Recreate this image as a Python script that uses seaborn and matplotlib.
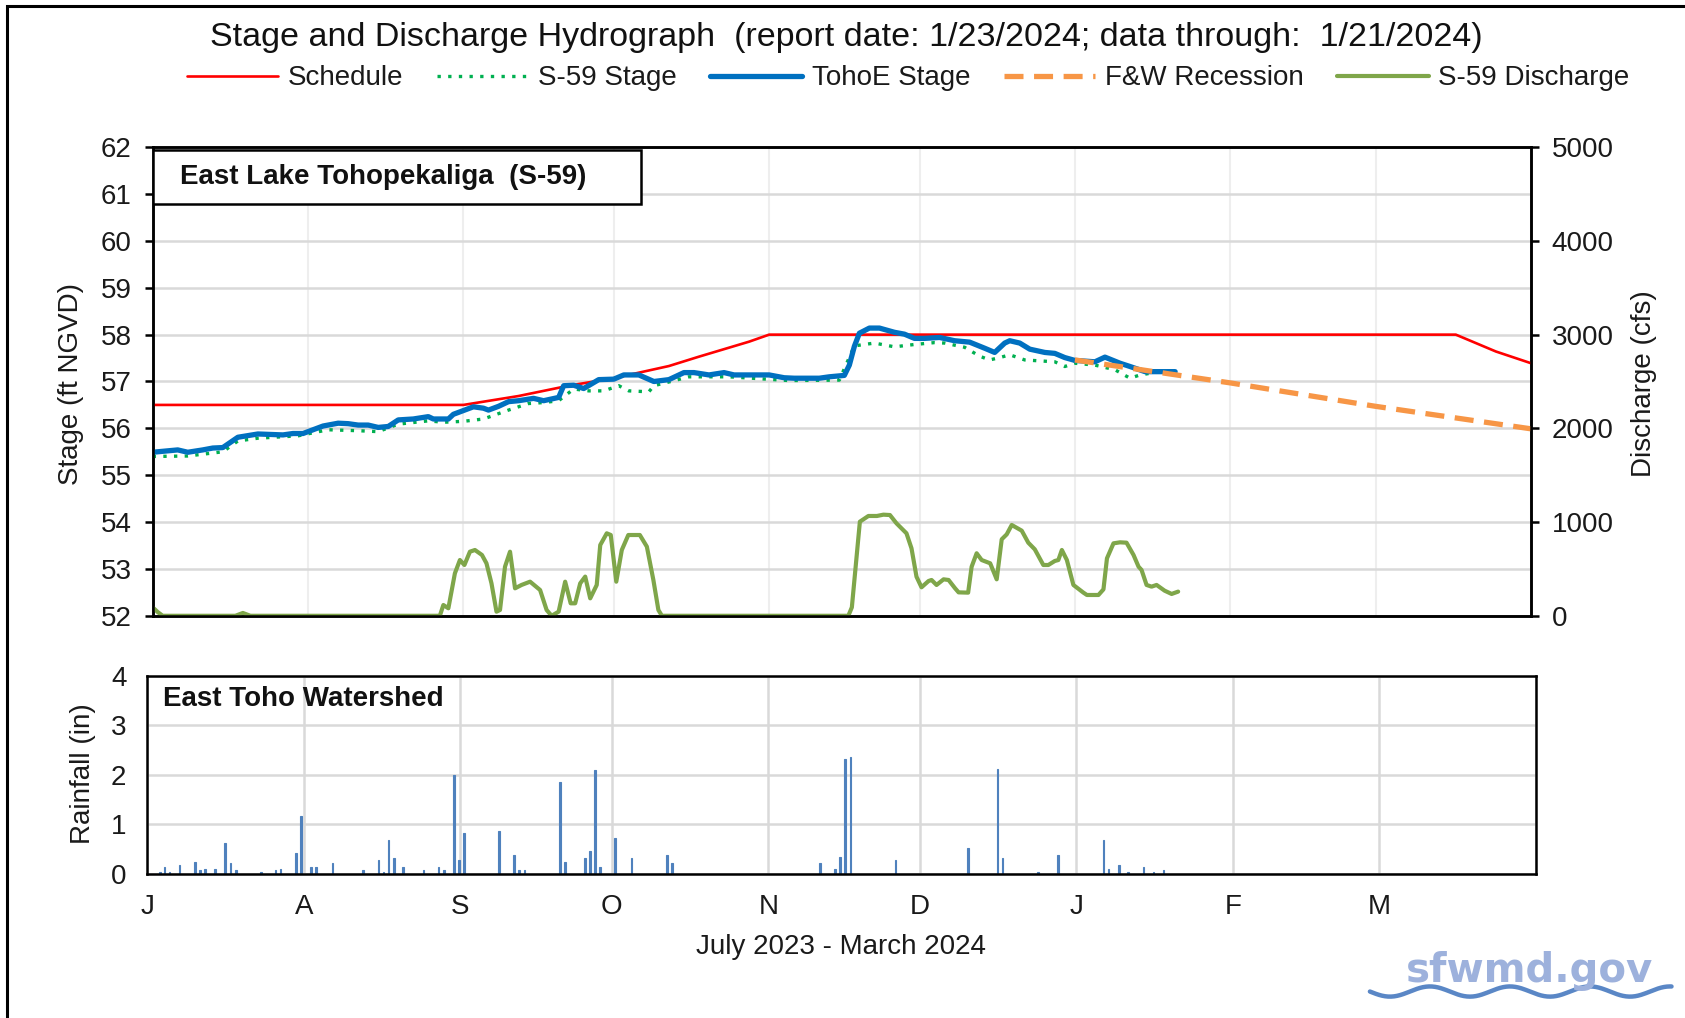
import numpy as np
import pandas as pd
import matplotlib
matplotlib.use("Agg")
import matplotlib.pyplot as plt
from matplotlib.patches import Rectangle
from matplotlib.lines import Line2D
import seaborn as sns

START = pd.Timestamp("2023-07-01")

# all x values are days since 1 Jul 2023
schedule_days = [0, 62, 73, 83, 92, 103, 109, 119, 123, 260, 268, 275]
schedule_stage = [56.5, 56.5, 56.69, 56.91, 57.07, 57.33, 57.53, 57.85, 58.0, 58.0, 57.64, 57.39]

s59_days = [0, 7, 14, 17, 21, 29, 35, 41, 45, 49, 55, 58, 62, 66, 71, 75, 78, 81, 84, 87,
            90, 93, 95, 99, 100, 103, 107, 115, 127, 137, 140, 144, 148, 152, 156, 158, 162,
            165, 167, 169, 171, 174, 180, 182, 184, 188, 192, 195, 197, 201, 204]
s59_stage = [55.40, 55.41, 55.50, 55.73, 55.79, 55.84, 55.97, 55.95, 55.93, 56.09, 56.16, 56.13,
             56.15, 56.20, 56.39, 56.53, 56.55, 56.59, 56.84, 56.80, 56.80, 56.91, 56.80, 56.78,
             56.91, 56.99, 57.10, 57.10, 57.02, 57.03, 57.76, 57.82, 57.74, 57.79, 57.83, 57.82,
             57.73, 57.54, 57.46, 57.51, 57.57, 57.46, 57.42, 57.32, 57.39, 57.35, 57.25, 57.07,
             57.14, 57.21, 57.22]

tohoe_days = [0, 5, 7, 10, 12, 14, 17, 21, 26, 28, 30, 34, 37, 39, 41, 43, 45, 47, 49, 52,
              55, 56, 59, 60, 64, 66, 67, 69, 71, 73, 76, 78, 81, 82, 84, 86, 89, 92, 94, 97,
              100, 103, 106, 108, 111, 114, 116, 123, 126, 128, 133, 135, 138, 139, 140, 141,
              143, 145, 148, 150, 152, 154, 157, 160, 163, 166, 168, 170, 171, 173, 175, 178,
              180, 182, 184, 188, 190, 193, 195, 198, 204]
tohoe_stage = [55.49, 55.54, 55.49, 55.54, 55.58, 55.59, 55.81, 55.88, 55.86, 55.89, 55.89,
               56.05, 56.11, 56.10, 56.07, 56.07, 56.02, 56.04, 56.18, 56.20, 56.25, 56.20,
               56.20, 56.30, 56.46, 56.43, 56.39, 56.47, 56.57, 56.59, 56.64, 56.59, 56.66,
               56.91, 56.92, 56.85, 57.04, 57.05, 57.14, 57.14, 57.00, 57.04, 57.19, 57.19,
               57.14, 57.19, 57.14, 57.14, 57.08, 57.07, 57.07, 57.10, 57.13, 57.35, 57.75,
               58.03, 58.14, 58.14, 58.05, 58.01, 57.92, 57.92, 57.94, 57.87, 57.84, 57.71,
               57.62, 57.82, 57.87, 57.82, 57.69, 57.62, 57.60, 57.51, 57.45, 57.42, 57.52,
               57.39, 57.32, 57.21, 57.21]

recession_days = [184, 215, 244, 275]
recession_stage = [57.46, 56.97, 56.47, 55.99]

discharge_days = [0.0, 1.0, 2.0, 16.5, 18.0, 19.5, 57.3, 58.0, 59.0, 60.3, 61.3, 62.2, 63.3,
                  64.3, 65.7, 66.6, 67.6, 68.6, 69.3, 70.3, 71.3, 72.3, 73.6, 75.3, 77.3, 78.6,
                  79.6, 81.0, 82.3, 83.4, 84.3, 85.3, 86.3, 87.3, 88.6, 89.3, 90.6, 91.4, 92.5,
                  93.6, 94.9, 97.2, 98.6, 99.9, 100.9, 101.6, 138.8, 139.5, 141.1, 142.8, 144.5,
                  145.8, 147.1, 148.4, 150.4, 151.4, 152.4, 153.4, 154.8, 155.4, 156.4, 157.8,
                  158.8, 160.1, 160.8, 162.7, 163.4, 164.4, 165.4, 167.1, 168.4, 169.4, 170.4,
                  171.4, 173.4, 174.7, 176.0, 177.7, 178.7, 180.0, 180.7, 181.4, 182.4, 183.7,
                  185.7, 186.4, 188.7, 189.7, 190.4, 191.7, 193.0, 194.3, 195.7, 196.7, 197.3,
                  198.3, 199.3, 200.3, 201.9, 203.3, 204.6]
discharge_cfs = [90, 40, 0, 0, 30, 0, 0, 115, 80, 453, 595, 542, 684, 702, 649, 560, 346, 44,
                 62, 524, 684, 293, 329, 364, 275, 62, 0, 44, 364, 133, 133, 346, 418, 186, 329,
                 755, 880, 862, 364, 702, 862, 862, 738, 382, 62, 0, 0, 90, 1004, 1065, 1065,
                 1079, 1075, 987, 880, 720, 417, 304, 371, 382, 329, 389, 382, 293, 250, 247,
                 524, 667, 595, 560, 389, 816, 869, 969, 908, 780, 709, 542, 542, 585, 595, 702,
                 595, 329, 247, 222, 222, 282, 613, 773, 784, 780, 649, 524, 489, 329, 311, 329,
                 268, 233, 258]

rain_days = [2.5, 3.4, 4.4, 6.4, 9.5, 10.4, 11.4, 13.4, 15.4, 16.5, 17.6, 22.5, 25.4, 26.4,
             29.4, 30.5, 32.5, 33.4, 36.7, 42.8, 45.8, 46.8, 47.8, 48.8, 50.7, 54.7, 57.7, 58.7,
             60.8, 61.7, 62.7, 69.7, 72.7, 73.7, 74.7, 81.7, 82.7, 86.7, 87.7, 88.7, 89.7, 92.7,
             95.9, 103.0, 104.0, 133.3, 136.2, 137.2, 138.2, 139.3, 148.2, 162.5, 168.4, 169.4,
             176.4, 180.4, 189.4, 190.4, 192.4, 194.3, 197.3, 199.3, 201.3]
rain_in = [0.03, 0.14, 0.03, 0.17, 0.24, 0.07, 0.10, 0.10, 0.62, 0.21, 0.07, 0.03, 0.07, 0.10,
           0.41, 1.17, 0.14, 0.14, 0.21, 0.07, 0.28, 0.03, 0.69, 0.31, 0.14, 0.07, 0.14, 0.07,
           1.99, 0.28, 0.83, 0.86, 0.38, 0.07, 0.07, 1.86, 0.24, 0.31, 0.45, 2.10, 0.14, 0.72,
           0.31, 0.38, 0.21, 0.21, 0.10, 0.34, 2.32, 2.36, 0.28, 0.52, 2.12, 0.31, 0.03, 0.38,
           0.69, 0.10, 0.17, 0.03, 0.14, 0.03, 0.07]

month_starts = pd.date_range("2023-07-01", "2024-04-01", freq="MS")
month_labels = ["J", "A", "S", "O", "N", "D", "J", "F", "M", ""]


def to_dates(days):
    return START + pd.to_timedelta(days, unit="D")


sns.set_theme(style="white")
plt.rcParams["font.family"] = ["Liberation Sans", "DejaVu Sans"]

FS = 20
TXT = "#1a1a1a"

fig = plt.figure(figsize=(16.85, 10.18), dpi=100, facecolor="white")
ax = fig.add_axes([0.0906, 0.3951, 0.818, 0.4603])
ax2 = ax.twinx()
axr = fig.add_axes([0.0874, 0.1418, 0.824, 0.1941])

# Stage lines
sns.lineplot(x=to_dates(schedule_days), y=schedule_stage, ax=ax, color="#FF0000",
             lw=1.9, label="Schedule", legend=False, zorder=3)
sns.lineplot(x=to_dates(s59_days), y=s59_stage, ax=ax, color="#00B050", lw=2.4,
             linestyle=(0, (1, 2.2)), label="S-59 Stage", legend=False, zorder=4)
sns.lineplot(x=to_dates(tohoe_days), y=tohoe_stage, ax=ax, color="#0070C0", lw=3.8,
             label="TohoE Stage", legend=False, zorder=5)
sns.lineplot(x=to_dates(recession_days), y=recession_stage, ax=ax, color="#F79646", lw=3.8,
             linestyle=(0, (3.6, 2.0)), label="F&W Recession", legend=False, zorder=6)
sns.lineplot(x=to_dates(discharge_days), y=discharge_cfs, ax=ax2, color="#7FA64A", lw=3.0,
             label="S-59 Discharge", legend=False)

xlim = (month_starts[0], month_starts[-1])
for a in (ax, axr):
    a.set_xlim(*xlim)
    a.set_xticks(month_starts)
    a.set_axisbelow(True)
ax.set_ylim(52, 62)
ax.set_yticks(range(52, 63))
ax2.set_ylim(0, 5000)
ax2.set_yticks(range(0, 5001, 1000))
ax.set_xticklabels([])
ax.grid(axis="y", color="#D9D9D9", lw=1.8)
ax.grid(axis="x", color="#EEEEEE", lw=1.5)
ax.set_xlabel("")
ax.set_ylabel("")
ax2.set_ylabel("")

# Rainfall
axr.bar(to_dates(rain_days), rain_in, width=0.35, color="#4F81BD",
        edgecolor="#4F81BD", linewidth=0.8)
axr.set_ylim(0, 4)
axr.set_yticks(range(0, 5))
axr.set_xticklabels(month_labels)
axr.grid(True, color="#D9D9D9", lw=1.8)

for a in (ax, ax2, axr):
    for s in a.spines.values():
        s.set_color("black")
        s.set_linewidth(1.8)
    a.tick_params(direction="out", length=6, width=1.8, color="black", labelsize=FS,
                  pad=9, labelcolor=TXT)
axr.tick_params(axis="x", pad=9)

# Panel captions
ax2.add_patch(Rectangle((0.0, 0.878), 0.354, 0.115, transform=ax2.transAxes,
                        facecolor="white", edgecolor="black", lw=1.8, zorder=10))
ax2.text(0.0195, 0.936, "East Lake Tohopekaliga  (S-59)", transform=ax2.transAxes,
         fontsize=FS, fontweight="bold", ha="left", va="center", zorder=11, color="#111111")
axr.text(0.0116, 0.886, "East Toho Watershed", transform=axr.transAxes,
         fontsize=FS, fontweight="bold", ha="left", va="center", color="#111111")

# Axis labels
fig.text(0.0421, 0.6232, "Stage (ft NGVD)", rotation=90, ha="center", va="center",
         fontsize=FS, color=TXT)
fig.text(0.9757, 0.6232, "Discharge (cfs)", rotation=90, ha="center", va="center",
         fontsize=FS, color=TXT)
fig.text(0.0491, 0.240, "Rainfall (in)", rotation=90, ha="center", va="center",
         fontsize=FS, color=TXT)
fig.text(0.4994, 0.070, "July 2023 - March 2024", ha="center", va="center",
         fontsize=FS, color=TXT)

fig.text(0.502, 0.963,
         "Stage and Discharge Hydrograph  (report date: 1/23/2024; data through:  1/21/2024)",
         ha="center", va="center", fontsize=24.5, color="#111111")

handles = ax.get_lines()[:4] + ax2.get_lines()[:1]
labels = ["Schedule", "S-59 Stage", "TohoE Stage", "F&W Recession", "S-59 Discharge"]
fig.legend(handles, labels, loc="center", bbox_to_anchor=(0.539, 0.923), ncol=5,
           frameon=False, handlelength=3.3, handletextpad=0.35, columnspacing=1.2,
           fontsize=FS, labelcolor=TXT)

# logo
fig.text(0.908, 0.046, "sfwmd.gov", ha="center", va="center", fontsize=29,
         fontweight="heavy", family="DejaVu Sans", color="#9DB1DC")
wx = np.linspace(0.813, 0.992, 200)
wy = 0.026 + 0.005 * np.sin((wx - 0.813) / 0.0475 * 2 * np.pi + np.pi)
fig.add_artist(Line2D(wx, wy, transform=fig.transFigure, color="#5A87C6", lw=3.2,
                      solid_capstyle="round"))

# outer frame
fig.add_artist(Rectangle((0.0042, -0.1), 1.2, 1.0941, transform=fig.transFigure,
                         fill=False, edgecolor="black", lw=2.2))

fig.savefig("out.png", dpi=100)
